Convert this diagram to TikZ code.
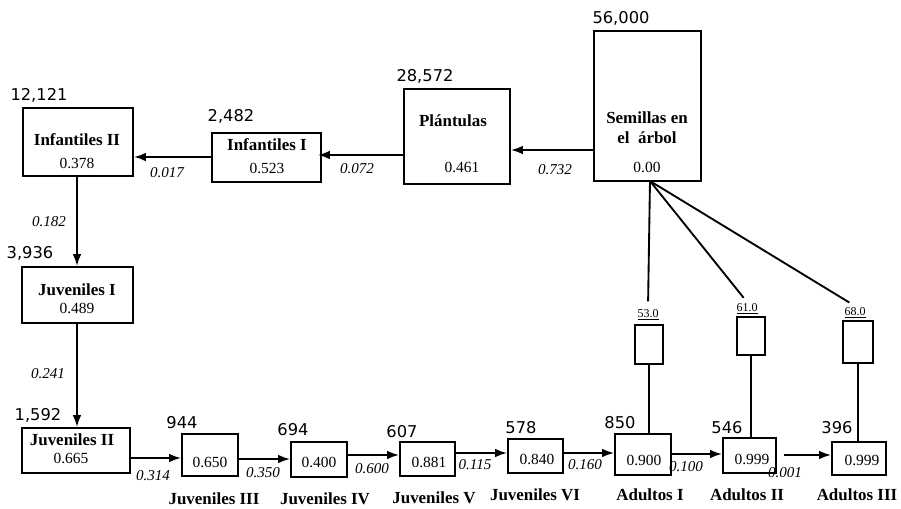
\documentclass[tikz,border=0pt]{standalone}
\usepackage{fontspec}
\setmainfont{Liberation Serif}
\newfontfamily\cntfont{DejaVu Sans}
\usetikzlibrary{arrows.meta}

\begin{document}
\begin{tikzpicture}[x=0.75pt,y=0.75pt,yscale=-1,xscale=1,
  box/.style 2 args={draw, line width=1.4pt, inner sep=0pt, minimum width=#1*0.75pt, minimum height=#2*0.75pt},
  stage/.style={inner sep=0.75pt, align=center, font=\fontsize{12.7}{15}\selectfont\bfseries},
  rate/.style={inner sep=0.75pt, font=\fontsize{11.6}{13}\selectfont},
  trans/.style={inner sep=0.75pt, font=\fontsize{11.3}{13}\selectfont\itshape},
  count/.style={inner sep=0.75pt, font=\fontsize{12.2}{14}\selectfont\cntfont},
  fec/.style={inner sep=1pt, font=\fontsize{9}{10}\selectfont},
  flow/.style={line width=1.4pt, -{Latex[length=9pt,width=6.5pt]}},
  link/.style={line width=1.4pt}]
%set diagram to the size of the reference
\useasboundingbox (0,0) rectangle (901,508);

%Shape: Rectangle [Semillas]
\node [box={107}{150}] (sem) at (647.5,106) {};
%Shape: Rectangle [Plantulas]
\node [box={106}{95}] (plant) at (457,136.5) {};
%Shape: Rectangle [Infantiles I]
\node [box={109}{49}] (infI) at (266.5,157.5) {};
%Shape: Rectangle [Infantiles II]
\node [box={110}{68}] (infII) at (78,142) {};
%Shape: Rectangle [Juveniles I]
\node [box={111}{56}] (juvI) at (77.5,295) {};
%Shape: Rectangle [Juveniles II]
\node [box={108}{45}] (juvII) at (76,450.5) {};
%Shape: Rectangle [Juveniles III]
\node [box={56}{42}] (juvIII) at (210,455) {};
%Shape: Rectangle [Juveniles IV]
\node [box={56}{35}] (juvIV) at (319,459.5) {};
%Shape: Rectangle [Juveniles V]
\node [box={55}{34}] (juvV) at (427.5,459) {};
%Shape: Rectangle [Juveniles VI]
\node [box={55}{34}] (juvVI) at (535.5,456) {};
%Shape: Rectangle [Adultos I]
\node [box={56}{41}] (adI) at (643,454.5) {};
%Shape: Rectangle [Adultos II]
\node [box={53}{35}] (adII) at (749.5,455.5) {};
%Shape: Rectangle [Adultos III]
\node [box={54}{33}] (adIII) at (859,458.5) {};
%Shape: Rectangle [fecundity]
\node [box={28}{39}] (fecI) at (649,344.5) {};
\node [box={28}{38}] (fecII) at (751,336) {};
\node [box={30}{42}] (fecIII) at (858,342) {};

% Text Node
\node [stage] (semname) at (647,128) {Semillas en\\el\ \ árbol};
% Text Node
\node [rate] (semrate) at (647,167) {0.00};
% Text Node
\node [stage] (plantname) at (453,121) {Plántulas};
% Text Node
\node [rate] (plantrate) at (462,167) {0.461};
% Text Node
\node [stage] (infIname) at (267,145) {Infantiles I};
% Text Node
\node [rate] (infIrate) at (267,168) {0.523};
% Text Node
\node [stage] (infIIname) at (77,140) {Infantiles II};
% Text Node
\node [rate] (infIIrate) at (77,163) {0.378};
% Text Node
\node [stage] (juvIname) at (77,290) {Juveniles I};
% Text Node
\node [rate] (juvIrate) at (77,308) {0.489};
% Text Node
\node [stage] (juvIIname) at (72,440) {Juveniles II};
% Text Node
\node [rate] (juvIIrate) at (71,458) {0.665};
% Text Node
\node [rate] (juvIIIrate) at (210,462) {0.650};
% Text Node
\node [rate] (juvIVrate) at (319,462) {0.400};
% Text Node
\node [rate] (juvVrate) at (429,462) {0.881};
% Text Node
\node [rate] (juvVIrate) at (537,459) {0.840};
% Text Node
\node [rate] (adIrate) at (644,460) {0.900};
% Text Node
\node [rate] (adIIrate) at (752,459) {0.999};
% Text Node
\node [rate] (adIIIrate) at (862,460) {0.999};

% Text Node
\node [stage] (juvIIIname) at (214,499) {Juveniles III};
% Text Node
\node [stage] (juvIVname) at (325,499) {Juveniles IV};
% Text Node
\node [stage] (juvVname) at (434,498) {Juveniles V};
% Text Node
\node [stage] (juvVIname) at (535,495) {Juveniles VI};
% Text Node
\node [stage] (adIname) at (650,495) {Adultos I};
% Text Node
\node [stage] (adIIname) at (747,495) {Adultos II};
% Text Node
\node [stage] (adIIIname) at (857,495) {Adultos III};

% Text Node
\node [count] (semcount) at (621,18) {56,000};
% Text Node
\node [count] (plantcount) at (425,76) {28,572};
% Text Node
\node [count] (infIcount) at (231,116) {2,482};
% Text Node
\node [count] (infIIcount) at (39,95) {12,121};
% Text Node
\node [count] (juvIcount) at (30,253) {3,936};
% Text Node
\node [count] (juvIIcount) at (38,415) {1,592};
% Text Node
\node [count] (juvIIIcount) at (182,423) {944};
% Text Node
\node [count] (juvIVcount) at (293,430) {694};
% Text Node
\node [count] (juvVcount) at (402,432) {607};
% Text Node
\node [count] (juvVIcount) at (521,428) {578};
% Text Node
\node [count] (adIcount) at (620,423) {850};
% Text Node
\node [count] (adIIcount) at (727,428) {546};
% Text Node
\node [count] (adIIIcount) at (837,428) {396};

% Text Node
\node [fec] (fecIlbl) at (648,315) {\underline{53.0}};
% Text Node
\node [fec] (fecIIlbl) at (747,309) {\underline{61.0}};
% Text Node
\node [fec] (fecIIIlbl) at (855,313) {\underline{68.0}};

% Text Node
\node [trans] (p1) at (555,170) {0.732};
% Text Node
\node [trans] (p2) at (357,169) {0.072};
% Text Node
\node [trans] (p3) at (167,173) {0.017};
% Text Node
\node [trans] (p4) at (49,222) {0.182};
% Text Node
\node [trans] (p5) at (48,374) {0.241};
% Text Node
\node [trans] (p6) at (153,476) {0.314};
% Text Node
\node [trans] (p7) at (263,473) {0.350};
% Text Node
\node [trans] (p8) at (372,469) {0.600};
% Text Node
\node [trans] (p9) at (475,465) {0.115};
% Text Node
\node [trans] (p10) at (585,465) {0.160};
% Text Node
\node [trans] (p11) at (686,467) {0.100};
% Text Node
\node [trans] (p12) at (785,473) {0.001};

%Straight Lines [transitions]
\draw [flow] (sem.west |- 0,150) -- (plant.east |- 0,150);
\draw [flow] (plant.west |- 0,155) -- ([xshift=-3pt]infI.east |- 0,155);
\draw [flow] (infI.west |- 0,157) -- (infII.east |- 0,157);
\draw [flow] (infII.south -| 77,0) -- (juvI.north -| 77,0);
\draw [flow] (juvI.south -| 77,0) -- (juvII.north -| 77,0);
\draw [flow] (juvII.east |- 0,458) -- (juvIII.west |- 0,458);
\draw [flow] (juvIII.east |- 0,459) -- (juvIV.west |- 0,459);
\draw [flow] (juvIV.east |- 0,455) -- (juvV.west |- 0,455);
\draw [flow] (juvV.east |- 0,453) -- (juvVI.west |- 0,453);
\draw [flow] (juvVI.east |- 0,453) -- (adI.west |- 0,453);
\draw [flow] (adI.east |- 0,454) -- (adII.west |- 0,454);
\draw [flow, shorten <=5pt] (adII.east |- 0,455) -- (adIII.west |- 0,455);

%Straight Lines [seed production]
\coordinate (root) at (650,181);
\draw [link, shorten >=5pt] (root) -- (fecIlbl.north);
\draw [link, shorten >=4pt] (root) -- (fecIIlbl.north);
\draw [link, shorten >=5pt] (root) -- (fecIIIlbl.north);
\draw [link] (fecI.south) -- (fecI.south |- adI.north);
\draw [link] (fecII.south) -- (fecII.south |- adII.north);
\draw [link] (fecIII.south) -- (fecIII.south |- adIII.north);

\end{tikzpicture}
\end{document}
